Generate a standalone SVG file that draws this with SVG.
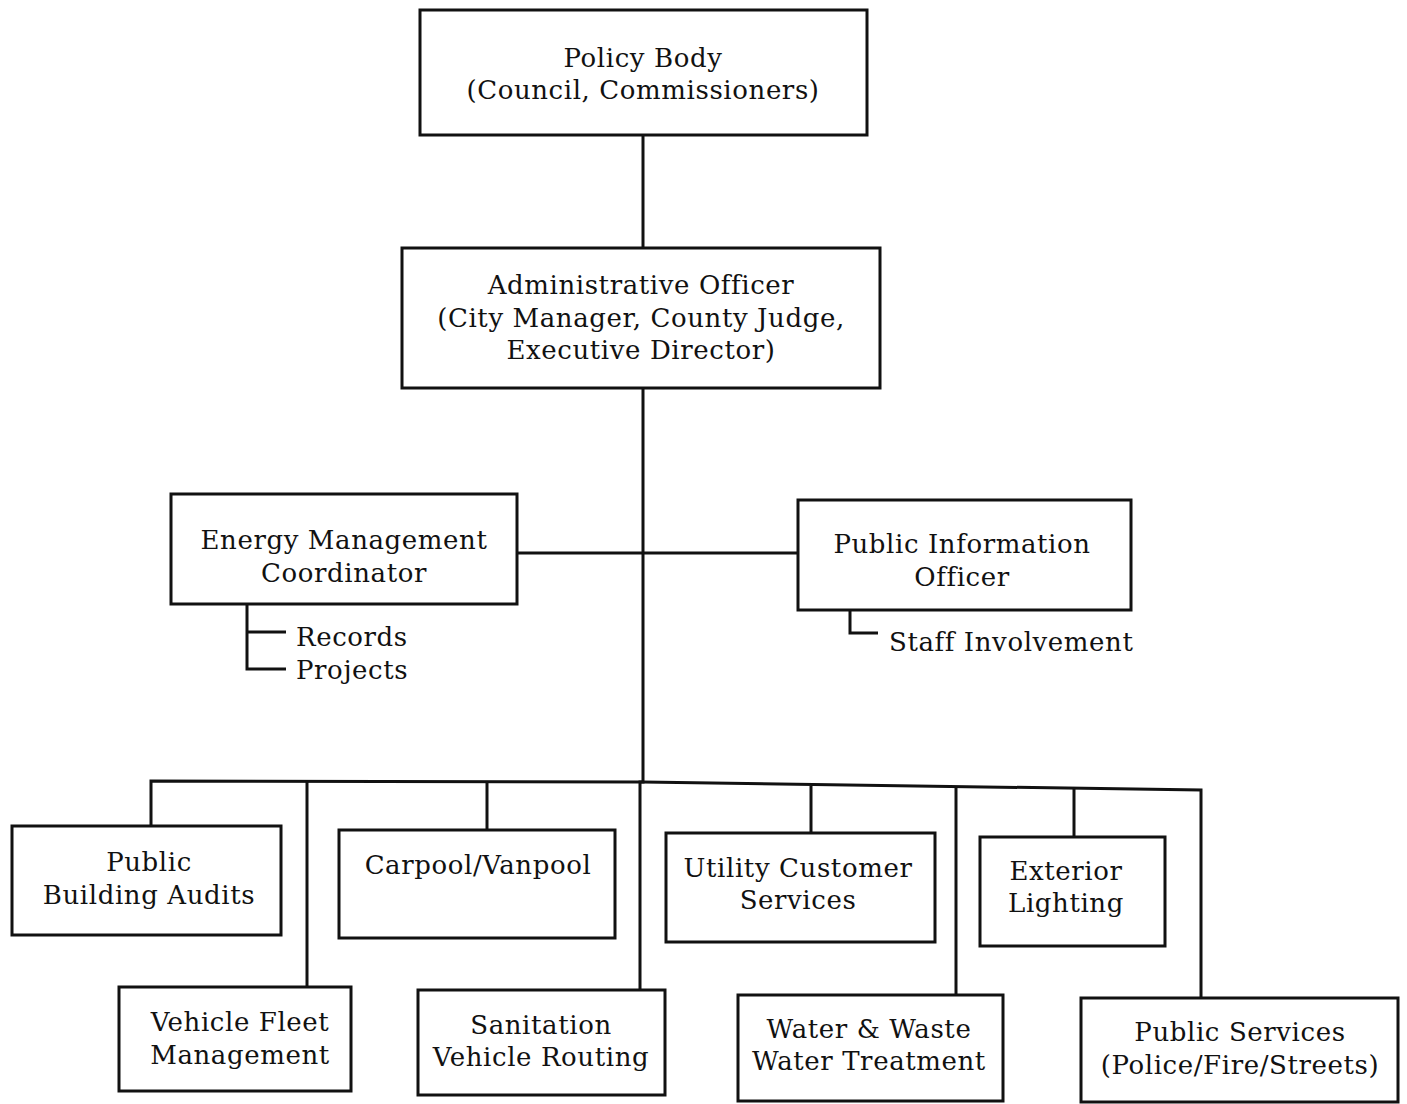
<svg xmlns="http://www.w3.org/2000/svg" width="1407" height="1104" viewBox="0 0 1407 1104">
<style>
.box{fill:#fff;stroke:#111;stroke-width:3}
.ln{fill:none;stroke:#111;stroke-width:3}
text{font-family:"DejaVu Serif","Liberation Serif",serif;font-size:26px;letter-spacing:0.6px;fill:#111}
.c{text-anchor:middle}
</style>
<rect width="1407" height="1104" fill="#fff"/>
<g id="connectors">
<line class="ln" x1="643" y1="135" x2="643" y2="248"/>
<polyline class="ln" points="643,388 643,782 640,782 640,990"/>
<line class="ln" x1="517" y1="553" x2="798" y2="553"/>
<polyline class="ln" points="151,826 151,781 643,782 1201,790 1201,998"/>
<line class="ln" x1="307" y1="781" x2="307" y2="987"/>
<line class="ln" x1="487" y1="781" x2="487" y2="830"/>
<line class="ln" x1="811" y1="786" x2="811" y2="833"/>
<line class="ln" x1="956" y1="788" x2="956" y2="995"/>
<line class="ln" x1="1074" y1="789" x2="1074" y2="837"/>
<polyline class="ln" points="247,604 247,669 286,669"/>
<line class="ln" x1="247" y1="632" x2="286" y2="632"/>
<polyline class="ln" points="850,610 850,633 878,633"/>
</g>
<g id="policy-body"><rect class="box" x="420" y="10" width="447" height="125"/>
<text class="c" x="643" y="67">Policy Body</text><text class="c" x="643" y="99">(Council, Commissioners)</text></g>
<g id="admin-officer"><rect class="box" x="402" y="248" width="478" height="140"/>
<text class="c" x="641" y="294">Administrative Officer</text><text class="c" x="641" y="327">(City Manager, County Judge,</text><text class="c" x="641" y="359">Executive Director)</text></g>
<g id="energy-coordinator"><rect class="box" x="171" y="494" width="346" height="110"/>
<text class="c" x="344" y="549">Energy Management</text><text class="c" x="344" y="582">Coordinator</text></g>
<g id="records"><text x="296" y="646">Records</text></g>
<g id="projects"><text x="296" y="679">Projects</text></g>
<g id="pio"><rect class="box" x="798" y="500" width="333" height="110"/>
<text class="c" x="962" y="553">Public Information</text><text class="c" x="962" y="586">Officer</text></g>
<g id="staff-involvement"><text x="889" y="651">Staff Involvement</text></g>
<g id="building-audits"><rect class="box" x="12" y="826" width="269" height="109"/>
<text class="c" x="149" y="871">Public</text><text class="c" x="149" y="904">Building Audits</text></g>
<g id="carpool"><rect class="box" x="339" y="830" width="276" height="108"/>
<text class="c" x="478" y="874">Carpool/Vanpool</text></g>
<g id="utility"><rect class="box" x="666" y="833" width="269" height="109"/>
<text class="c" x="798" y="877">Utility Customer</text><text class="c" x="798" y="909">Services</text></g>
<g id="exterior-lighting"><rect class="box" x="980" y="837" width="185" height="109"/>
<text class="c" x="1066" y="880">Exterior</text><text class="c" x="1066" y="912">Lighting</text></g>
<g id="vehicle-fleet"><rect class="box" x="119" y="987" width="232" height="104"/>
<text class="c" x="240" y="1031">Vehicle Fleet</text><text class="c" x="240" y="1064">Management</text></g>
<g id="sanitation"><rect class="box" x="418" y="990" width="247" height="105"/>
<text class="c" x="541" y="1034">Sanitation</text><text class="c" x="541" y="1066">Vehicle Routing</text></g>
<g id="water"><rect class="box" x="738" y="995" width="265" height="106"/>
<text class="c" x="869" y="1038">Water &amp; Waste</text><text class="c" x="869" y="1070">Water Treatment</text></g>
<g id="public-services"><rect class="box" x="1081" y="998" width="317" height="104"/>
<text class="c" x="1240" y="1041">Public Services</text><text class="c" x="1240" y="1074">(Police/Fire/Streets)</text></g>
</svg>
